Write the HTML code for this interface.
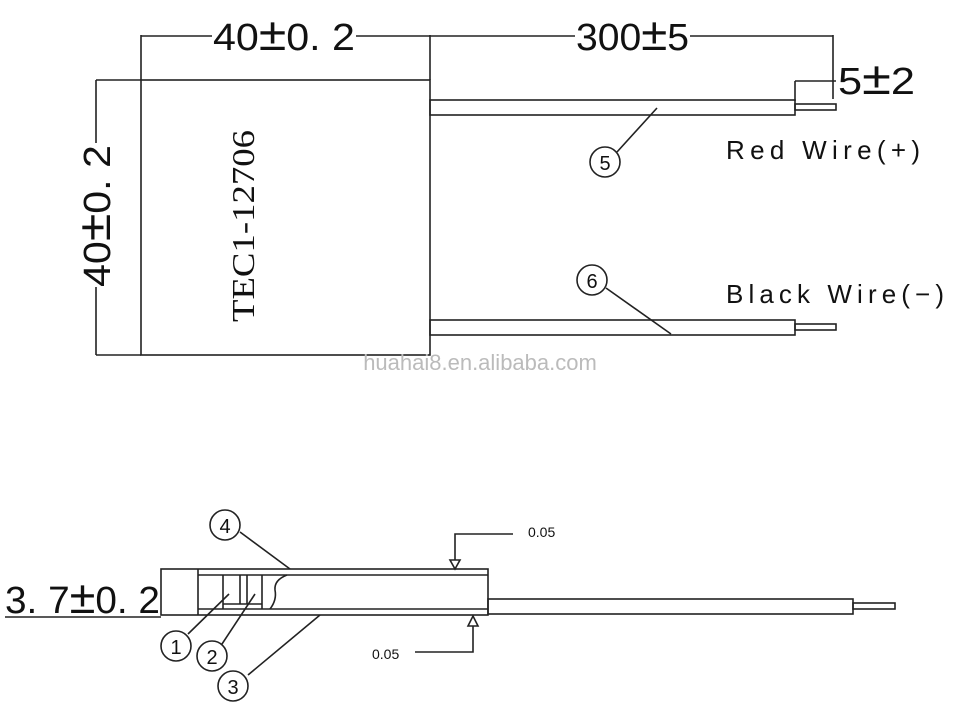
<!DOCTYPE html>
<html><head><style>
body{margin:0;background:#fff;}
svg{display:block}
text{font-family:"Liberation Sans",sans-serif;}
</style></head><body>
<svg width="960" height="721" viewBox="0 0 960 721" xmlns="http://www.w3.org/2000/svg">
<g stroke="#222" stroke-width="1.6" fill="none">
<rect x="141" y="80" width="289" height="275"/>
<line x1="141" y1="35" x2="141" y2="80"/>
<line x1="430" y1="35" x2="430" y2="80"/>
<line x1="141" y1="36" x2="212" y2="36"/>
<line x1="356" y1="36" x2="430" y2="36"/>
<line x1="430" y1="36" x2="575" y2="36"/>
<line x1="690" y1="36" x2="833" y2="36"/>
<line x1="833" y1="35" x2="833" y2="99"/>
<line x1="795" y1="81" x2="836" y2="81"/>
<line x1="795" y1="81" x2="795" y2="101"/>
<line x1="96" y1="80" x2="141" y2="80"/>
<line x1="96" y1="355" x2="141" y2="355"/>
<line x1="96" y1="80" x2="96" y2="143"/>
<line x1="96" y1="287" x2="96" y2="355"/>
<rect x="430" y="100" width="365" height="15"/>
<rect x="795" y="104" width="41" height="6"/>
<rect x="430" y="320" width="365" height="15"/>
<rect x="795" y="324" width="41" height="6"/>
<circle cx="605" cy="162" r="15"/>
<line x1="617" y1="152" x2="657" y2="108"/>
<circle cx="592" cy="280" r="15"/>
<line x1="606" y1="288" x2="671" y2="334"/>
<rect x="161" y="569" width="327" height="46"/>
<line x1="198" y1="575" x2="488" y2="575"/>
<line x1="198" y1="609" x2="488" y2="609"/>
<line x1="198" y1="569" x2="198" y2="615"/>
<line x1="223" y1="575" x2="223" y2="609"/>
<line x1="223" y1="604" x2="262" y2="604"/>
<line x1="262" y1="575" x2="262" y2="609"/>
<line x1="240" y1="575" x2="240" y2="604"/>
<line x1="247" y1="575" x2="247" y2="604"/>
<path d="M287 575 Q274 580 275 590 Q277 600 270 609"/>
<rect x="488" y="599" width="365" height="15"/>
<rect x="853" y="603" width="42" height="6"/>
<circle cx="225" cy="525" r="15"/>
<line x1="240" y1="532" x2="290" y2="569"/>
<circle cx="176" cy="646" r="15"/>
<line x1="188" y1="634" x2="229" y2="594"/>
<circle cx="212" cy="656" r="15"/>
<line x1="222" y1="644" x2="255" y2="594"/>
<circle cx="233" cy="686" r="15"/>
<line x1="248" y1="675" x2="320" y2="615"/>
<polyline points="513,534 455,534 455,560"/>
<polygon points="450,560 460,560 455,569"/>
<polyline points="415,652 473,652 473,626"/>
<polygon points="468,626 478,626 473,616"/>
<line x1="5" y1="617" x2="161" y2="617"/>
</g>
<g fill="#111">
<text x="213" y="50" font-size="38" textLength="142" lengthAdjust="spacingAndGlyphs">40<tspan font-size="46">±</tspan>0. 2</text>
<text x="576" y="50" font-size="38" textLength="113" lengthAdjust="spacingAndGlyphs">300<tspan font-size="46">±</tspan>5</text>
<text x="838" y="94" font-size="38" textLength="77" lengthAdjust="spacingAndGlyphs">5<tspan font-size="46">±</tspan>2</text>
<text transform="translate(110,287) rotate(-90)" font-size="38" textLength="142" lengthAdjust="spacingAndGlyphs">40<tspan font-size="46">±</tspan>0. 2</text>
<text transform="translate(254,322) rotate(-90)" font-size="32" textLength="192" lengthAdjust="spacingAndGlyphs" style="font-family:'Liberation Serif',serif">TEC1-12706</text>
<text x="726" y="159" font-size="26" textLength="194" lengthAdjust="spacing">Red Wire(+)</text>
<text x="726" y="303" font-size="26" textLength="218" lengthAdjust="spacing">Black Wire(−)</text>
<text x="605" y="170" font-size="20" text-anchor="middle">5</text>
<text x="592" y="288" font-size="20" text-anchor="middle">6</text>
<text x="225" y="533" font-size="20" text-anchor="middle">4</text>
<text x="176" y="654" font-size="20" text-anchor="middle">1</text>
<text x="212" y="664" font-size="20" text-anchor="middle">2</text>
<text x="233" y="694" font-size="20" text-anchor="middle">3</text>
<text x="528" y="537" font-size="14">0.05</text>
<text x="372" y="659" font-size="14">0.05</text>
<text x="5" y="613" font-size="38" textLength="155" lengthAdjust="spacingAndGlyphs">3. 7<tspan font-size="46">±</tspan>0. 2</text>
</g>
<text x="480" y="370" font-size="22" fill="#bbb" text-anchor="middle">huahai8.en.alibaba.com</text>
</svg>
</body></html>
